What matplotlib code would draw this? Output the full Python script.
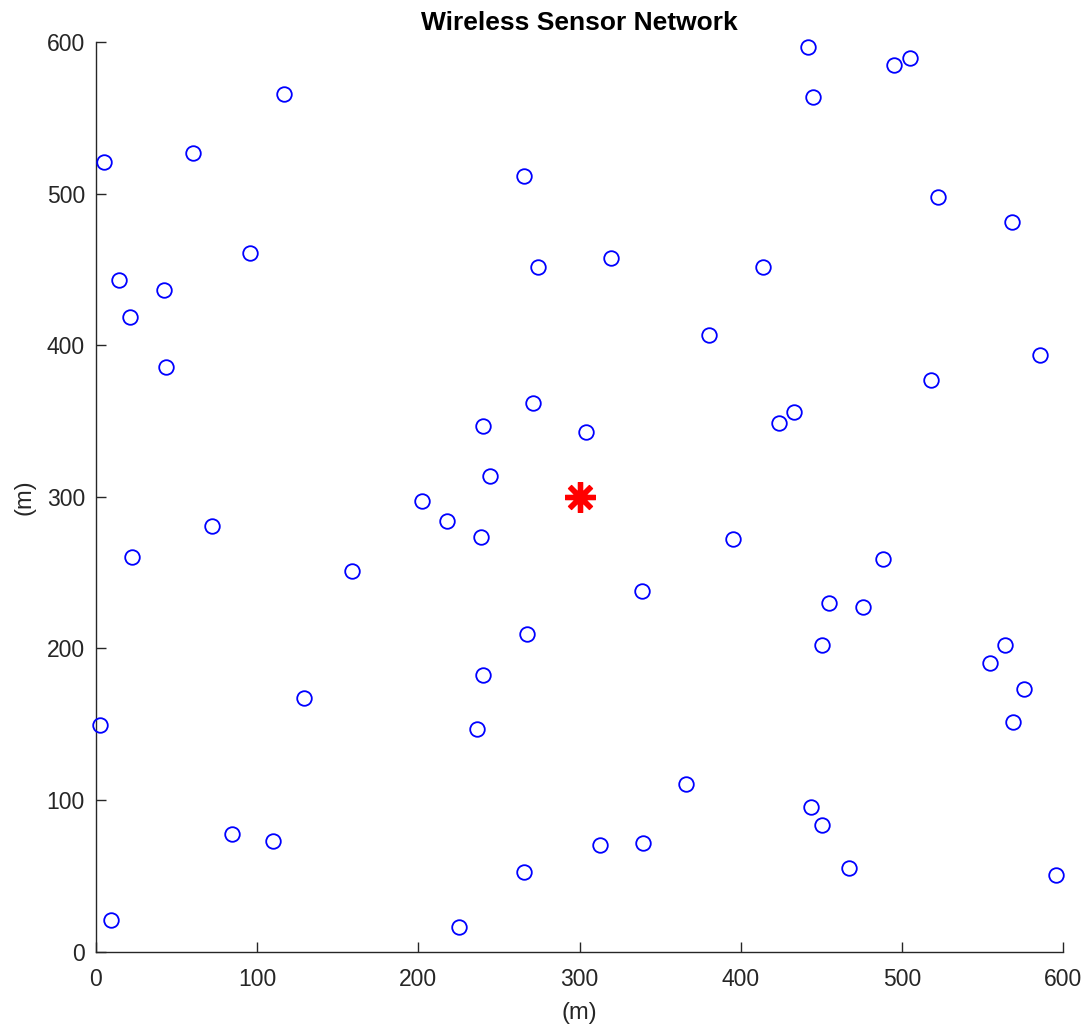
import matplotlib
matplotlib.use("Agg")
import matplotlib.pyplot as plt

plt.rcParams['font.family'] = ['Liberation Sans', 'DejaVu Sans']

# Sensor node positions (m)
node_x = [441.6, 495.0, 504.9, 445.0, 116.4, 4.8, 60.0, 265.4, 522.6, 568.1,
          95.6, 14.4, 42.2, 21.1, 274.2, 319.7, 414.0, 380.5, 43.4, 585.9,
          518.1, 270.9, 239.9, 304.0, 423.9, 432.9, 244.3, 202.1, 217.6, 72.2,
          238.7, 395.2, 22.3, 488.3, 158.8, 338.6, 455.0, 476.1, 267.6, 563.8,
          450.6, 554.9, 239.9, 575.8, 128.9, 2.3, 569.2, 236.4, 366.3, 443.8,
          450.6, 84.6, 110.0, 312.9, 339.6, 265.6, 467.2, 595.8, 9.1, 225.2]
node_y = [596.7, 585.1, 589.7, 563.5, 565.9, 521.1, 527.1, 511.6, 497.6, 481.0,
          461.1, 443.3, 436.2, 418.7, 451.6, 457.6, 451.6, 406.7, 385.5, 393.8,
          377.1, 362.0, 346.6, 343.1, 349.0, 356.0, 313.6, 297.2, 284.2, 280.9,
          273.4, 272.1, 260.2, 259.1, 251.2, 238.0, 229.7, 227.5, 209.7, 202.5,
          202.5, 190.7, 182.6, 173.2, 167.3, 149.4, 151.8, 146.9, 110.4, 95.2,
          83.6, 77.6, 72.7, 70.5, 71.6, 52.7, 55.2, 50.4, 20.9, 16.3]

# Sink / base station
sink_x = [300]
sink_y = [300]

ticks = [0, 100, 200, 300, 400, 500, 600]

fig = plt.figure(figsize=(10.86, 10.28), dpi=100)
ax = fig.add_axes([96/1086, (1028-951.7)/1028, (1063-96)/1086, (951.7-42)/1028])

ax.plot(node_x, node_y, linestyle='none', marker='o', markersize=10.5,
        markerfacecolor='none', markeredgecolor='#0000ff', markeredgewidth=1.3,
        clip_on=False, zorder=3)
ax.plot(sink_x, sink_y, linestyle='none', marker=(8, 2, 0), markersize=22,
        markeredgecolor='#ff0000', markeredgewidth=3.8, color='#ff0000',
        clip_on=False, zorder=4)

ax.set_xlim(0, 600)
ax.set_ylim(0, 600)
ax.set_xticks(ticks)
ax.set_yticks(ticks)
ax.tick_params(direction='in', length=7, width=1.0, colors='#262626',
               labelsize=16.5)
ax.tick_params(axis='x', pad=12)
ax.tick_params(axis='y', pad=8)

for s in ['top', 'right']:
    ax.spines[s].set_visible(False)
for s in ['left', 'bottom']:
    ax.spines[s].set_color('#262626')
    ax.spines[s].set_linewidth(1.0)

ax.set_xlabel('(m)', fontsize=17, color='#262626', labelpad=8)
ax.set_ylabel('(m)', fontsize=17, color='#262626', labelpad=8)
ax.set_title('Wireless Sensor Network', fontsize=19, fontweight='bold',
             color='black', pad=9)

fig.savefig('out.png', dpi=100)
